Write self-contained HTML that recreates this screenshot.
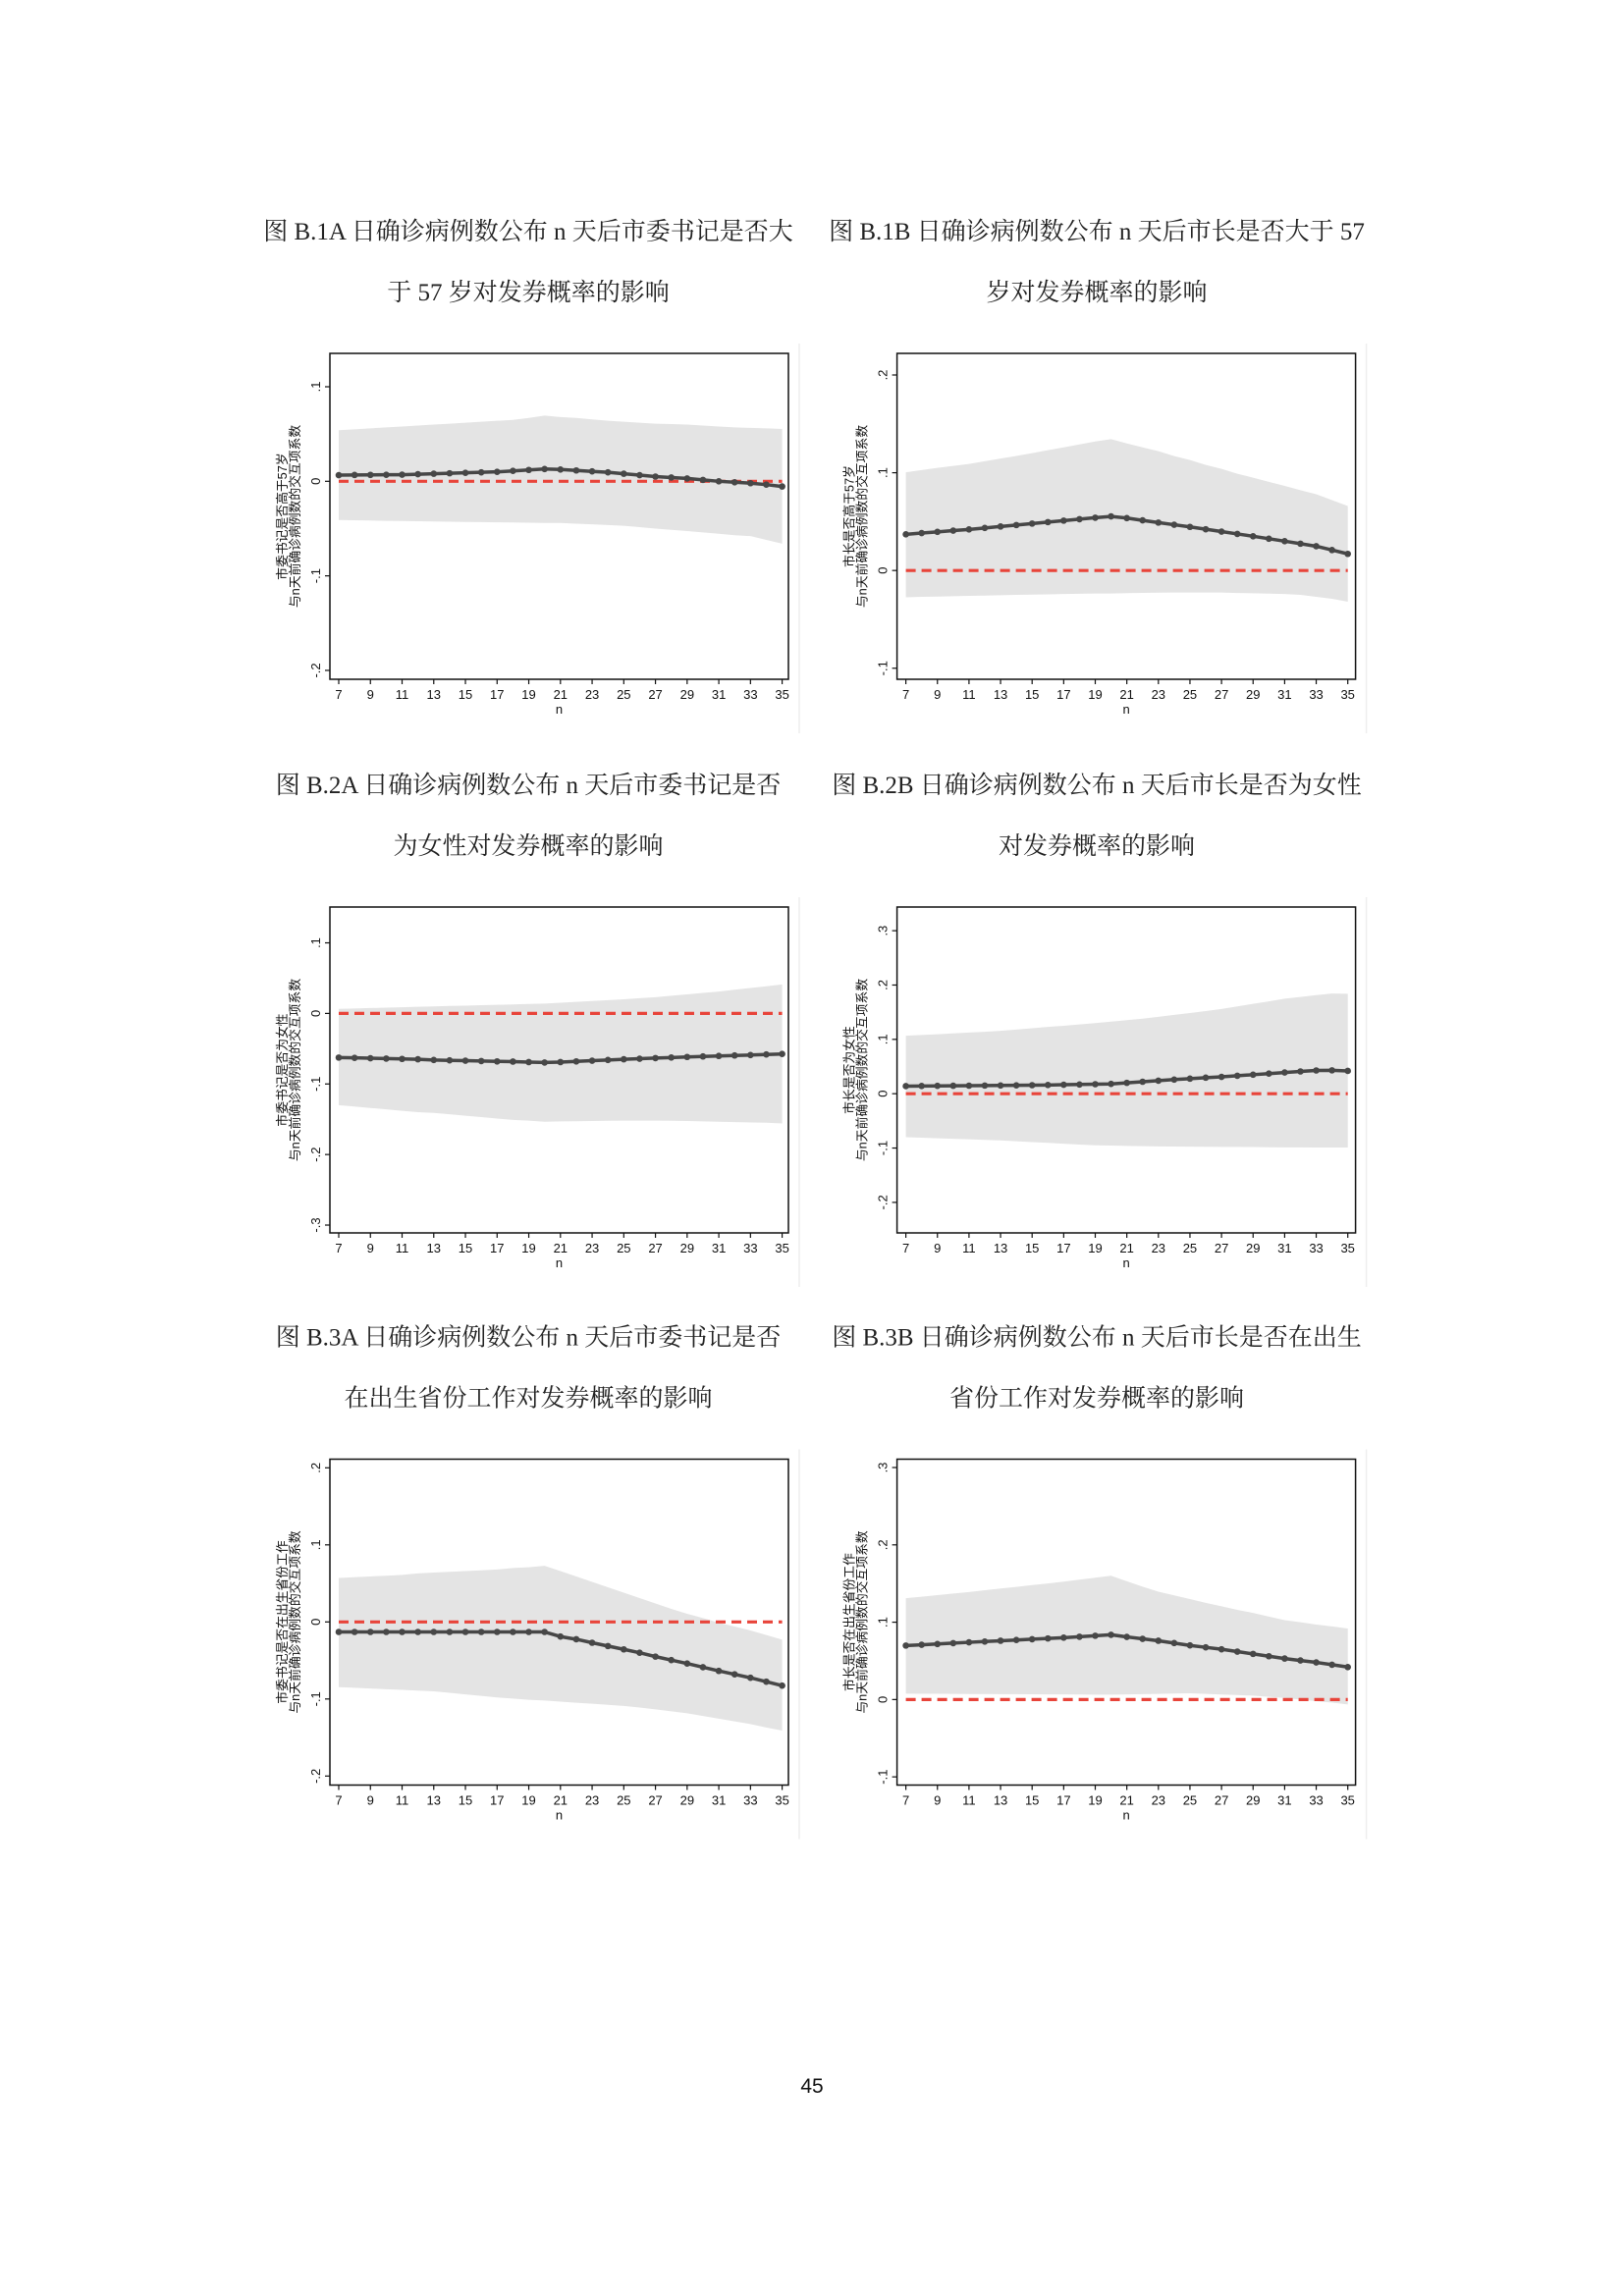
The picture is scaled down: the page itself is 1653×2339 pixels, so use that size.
<!DOCTYPE html>
<html><head><meta charset="utf-8"><style>
html,body{margin:0;padding:0;background:#fff;}
svg{display:block;}
.ttl{font-family:"Liberation Serif","Noto Serif CJK SC",serif;font-size:25px;fill:#222;}
.tk{font-family:"Liberation Sans","Noto Sans CJK SC",sans-serif;font-size:13px;fill:#111;}
.yt{font-family:"Liberation Sans","Noto Sans CJK SC",sans-serif;font-size:12.8px;fill:#111;}
</style></head><body>
<svg id="page" width="1653" height="2339" viewBox="0 0 1653 2339" xmlns="http://www.w3.org/2000/svg">
<text x="827" y="2132" text-anchor="middle" font-family="Liberation Sans,sans-serif" font-size="21" fill="#111">45</text>
</svg>
<script>
const nValues=[7,8,9,10,11,12,13,14,15,16,17,18,19,20,21,22,23,24,25,26,27,28,29,30,31,32,33,34,35];
const xTickLabels=["7","9","11","13","15","17","19","21","23","25","27","29","31","33","35"];

const coef1A=[.0065,.0067,.0068,.0069,.007,.0075,.008,.0085,.009,.0095,.010,.011,.012,.013,.0125,.0115,.0105,.0095,.008,.0065,.005,.004,.003,.0015,0,-.001,-.002,-.0035,-.0055];
const hi1A=[.054,.055,.056,.057,.058,.059,.060,.061,.062,.063,.064,.065,.067,.0695,.068,.067,.0655,.064,.063,.062,.061,.0605,.060,.059,.058,.057,.0565,.056,.0553];
const lo1A=[-.041,-.0412,-.0415,-.0418,-.042,-.0423,-.0425,-.0428,-.043,-.0432,-.0434,-.0436,-.0438,-.044,-.044,-.0448,-.0455,-.0463,-.047,-.0485,-.050,-.0513,-.0526,-.054,-.0555,-.057,-.058,-.062,-.066];

const coef1B=[.037,.0383,.0395,.0408,.042,.0435,.045,.0465,.048,.0495,.051,.0525,.054,.0553,.0536,.0513,.049,.0468,.0446,.0422,.0398,.0374,.035,.0325,.030,.0274,.0248,.0209,.017];
const hi1B=[.1005,.1027,.105,.107,.109,.1117,.1145,.1172,.120,.123,.126,.129,.132,.1343,.130,.126,.122,.117,.113,.108,.104,.099,.095,.0907,.0865,.0822,.078,.072,.066];
const lo1B=[-.0275,-.027,-.0267,-.0263,-.026,-.0257,-.0253,-.025,-.0247,-.0244,-.0241,-.0238,-.0236,-.0235,-.0232,-.0229,-.0227,-.0226,-.0225,-.0225,-.0225,-.023,-.0233,-.0237,-.024,-.025,-.027,-.029,-.032];

const coef2A=[-.0626,-.063,-.0635,-.064,-.0645,-.065,-.066,-.0665,-.067,-.0675,-.068,-.0683,-.069,-.0696,-.069,-.068,-.067,-.066,-.065,-.0642,-.0633,-.0625,-.0617,-.061,-.0603,-.0596,-.059,-.0582,-.0575];
const hi2A=[.0065,.007,.0076,.0082,.0088,.0094,.010,.0106,.011,.0116,.0122,.0128,.0134,.014,.0152,.0164,.0176,.0188,.020,.0215,.023,.025,.027,.029,.031,.0335,.036,.0385,.041];
const lo2A=[-.130,-.132,-.134,-.136,-.138,-.140,-.141,-.143,-.145,-.147,-.149,-.151,-.152,-.1535,-.153,-.1528,-.1525,-.1522,-.152,-.152,-.152,-.1522,-.1525,-.153,-.1535,-.154,-.1545,-.155,-.156];

const coef2B=[.014,.0142,.0144,.0146,.0148,.015,.0152,.0154,.0157,.016,.0165,.017,.0175,.018,.020,.022,.024,.026,.0277,.0295,.031,.033,.035,.037,.039,.041,.0428,.043,.042];
const hi2B=[.1066,.108,.1095,.111,.1125,.114,.1157,.118,.1205,.123,.125,.1275,.130,.1327,.1353,.138,.1415,.145,.1485,.152,.156,.1607,.1655,.170,.175,.178,.1815,.1845,.184];
const lo2B=[-.080,-.081,-.082,-.083,-.084,-.085,-.086,-.0875,-.089,-.0905,-.092,-.0935,-.095,-.0955,-.096,-.0965,-.097,-.0972,-.0975,-.0977,-.098,-.098,-.0982,-.0985,-.0987,-.0988,-.099,-.099,-.099];

const coef3A=[-.013,-.013,-.013,-.013,-.013,-.013,-.013,-.013,-.013,-.013,-.013,-.013,-.013,-.013,-.019,-.0225,-.027,-.0313,-.0356,-.040,-.045,-.0495,-.054,-.0588,-.0636,-.068,-.0725,-.0775,-.0826];
const hi3A=[.057,.058,.059,.060,.061,.063,.064,.065,.066,.067,.068,.070,.071,.0729,.066,.059,.052,.045,.038,.031,.024,.017,.0106,.005,-.001,-.006,-.011,-.017,-.023];
const lo3A=[-.0847,-.0855,-.0864,-.0873,-.0882,-.0891,-.090,-.092,-.094,-.096,-.098,-.0995,-.101,-.102,-.1034,-.1048,-.1062,-.1076,-.109,-.111,-.1134,-.116,-.1186,-.122,-.1255,-.129,-.1326,-.137,-.141];

const coef3B=[.0698,.0708,.0718,.0729,.074,.075,.076,.077,.078,.079,.080,.0812,.0825,.0837,.081,.0785,.076,.073,.070,.0675,.065,.062,.059,.056,.053,.0505,.048,.045,.042];
const hi3B=[.131,.133,.135,.137,.139,.1413,.1435,.1457,.148,.150,.1525,.155,.1575,.160,.153,.146,.1395,.1347,.13,.125,.1205,.116,.112,.1073,.1027,.100,.097,.0945,.0918];
const lo3B=[.0076,.0075,.0074,.0073,.0072,.0071,.007,.0069,.0068,.0067,.0066,.0065,.0064,.0063,.0066,.007,.0073,.0077,.008,.0073,.0065,.0058,.005,.0035,.002,0,-.002,-.004,-.0063];

const yTicks1A=[.1,0,-.1,-.2], yTicks1B=[.2,.1,0,-.1], yTicks2A=[.1,0,-.1,-.2,-.3];
const yTicks2B=[.3,.2,.1,0,-.1,-.2], yTicks3A=[.2,.1,0,-.1,-.2], yTicks3B=[.3,.2,.1,0,-.1];

const NS="http://www.w3.org/2000/svg";
const svg=document.getElementById('page');
function mk(tag,attrs,parent){const e=document.createElementNS(NS,tag);for(const k in attrs)e.setAttribute(k,attrs[k]);(parent||svg).appendChild(e);return e;}
function fmt(v){if(Math.abs(v)<1e-9)return "0";const s=Math.abs(v).toFixed(1).replace(/^0/,"");return (v<0?"-":"")+s;}

const charts=[
 {id:"b1a",col:0,row:0,coef:coef1A,hi:hi1A,lo:lo1A,ticks:yTicks1A,dom:[-.2094,.1353],yt:["市委书记是否高于57岁","与n天前确诊病例数的交互项系数"],title:["图 B.1A 日确诊病例数公布 n 天后市委书记是否大","于 57 岁对发券概率的影响"]},
 {id:"b1b",col:1,row:0,coef:coef1B,hi:hi1B,lo:lo1B,ticks:yTicks1B,dom:[-.1113,.2221],yt:["市长是否高于57岁","与n天前确诊病例数的交互项系数"],title:["图 B.1B 日确诊病例数公布 n 天后市长是否大于 57","岁对发券概率的影响"]},
 {id:"b2a",col:0,row:1,coef:coef2A,hi:hi2A,lo:lo2A,ticks:yTicks2A,dom:[-.3111,.1508],yt:["市委书记是否为女性","与n天前确诊病例数的交互项系数"],title:["图 B.2A  日确诊病例数公布 n 天后市委书记是否","为女性对发券概率的影响"]},
 {id:"b2b",col:1,row:1,coef:coef2B,hi:hi2B,lo:lo2B,ticks:yTicks2B,dom:[-.2562,.3436],yt:["市长是否为女性","与n天前确诊病例数的交互项系数"],title:["图 B.2B  日确诊病例数公布 n 天后市长是否为女性","对发券概率的影响"]},
 {id:"b3a",col:0,row:2,coef:coef3A,hi:hi3A,lo:lo3A,ticks:yTicks3A,dom:[-.2117,.2112],yt:["市委书记是否在出生省份工作","与n天前确诊病例数的交互项系数"],title:["图 B.3A  日确诊病例数公布 n 天后市委书记是否","在出生省份工作对发券概率的影响"]},
 {id:"b3b",col:1,row:2,coef:coef3B,hi:hi3B,lo:lo3B,ticks:yTicks3B,dom:[-.1106,.3108],yt:["市长是否在出生省份工作","与n天前确诊病例数的交互项系数"],title:["图 B.3B  日确诊病例数公布 n 天后市长是否在出生","省份工作对发券概率的影响"]}
];
const colBoxL=[336,913.6], colX7=[345,922.6], colX35=[796.6,1372.7], colTitleC=[538,1117];
const rowTop=[360,924,1486.5], boxW=467, boxH=332;

charts.forEach(c=>{
  const L=colBoxL[c.col], T=rowTop[c.row], R=L+boxW, B=T+boxH;
  const g=mk('g',{});
  
  
  const xs=v=>colX7[c.col]+(v-7)*(colX35[c.col]-colX7[c.col])/28;
  const ys=v=>B-(v-c.dom[0])*(boxH)/(c.dom[1]-c.dom[0]);
  c.title.forEach((t,i)=>{
    const tt=mk('text',{x:colTitleC[c.col],y:T-125+i*62+9,'text-anchor':'middle',class:'ttl'},g);
    tt.textContent=t;
    
    
  });
  const fr=mk('path',{d:`M${R+11},${T-10} V${B+55}`,stroke:'#eeeeee','stroke-width':1.5,fill:'none'},g);
  
  
  let d='M'+nValues.map((n,i)=>xs(n)+','+ys(c.hi[i])).join(' L');
  for(let i=nValues.length-1;i>=0;i--)d+=' L'+xs(nValues[i])+','+ys(c.lo[i]);
  const band=mk('path',{d:d+' Z',fill:'#e4e4e4',stroke:'none'},g);
  
  
  const zl=mk('line',{x1:xs(7),x2:xs(35),y1:ys(0),y2:ys(0),stroke:'#e8443a','stroke-width':3.2,'stroke-dasharray':'10 6'},g);
  
  
  const ln=mk('polyline',{points:nValues.map((n,i)=>xs(n)+','+ys(c.coef[i])).join(' '),fill:'none',stroke:'#474747','stroke-width':3.5,'stroke-linejoin':'round'},g);
  
  
  nValues.forEach((n,i)=>{
    const p=mk('circle',{cx:xs(n),cy:ys(c.coef[i]),r:3.3,fill:'#474747'},g);
    
    
  });
  const bx=mk('rect',{x:L,y:T,width:boxW,height:boxH,fill:'none',stroke:'#111','stroke-width':1.5},g);
  
  
  c.ticks.forEach(v=>{
    const y=ys(v);
    const tk=mk('line',{x1:L-5,x2:L,y1:y,y2:y,stroke:'#111','stroke-width':1.2},g);
    
    
    const tl=mk('text',{x:0,y:0,class:'tk','text-anchor':'middle',transform:`translate(${L-10},${y}) rotate(-90)`},g);
    tl.textContent=fmt(v);
    
    
  });
  xTickLabels.forEach(s=>{
    const x=xs(+s);
    const tk=mk('line',{x1:x,x2:x,y1:B,y2:B+5,stroke:'#111','stroke-width':1.2},g);
    
    
    const tl=mk('text',{x:x,y:B+20,class:'tk','text-anchor':'middle'},g);
    tl.textContent=s;
    
    
  });
  const xt=mk('text',{x:(L+R)/2,y:B+35,class:'tk','text-anchor':'middle'},g);
  xt.textContent='n';
  
  
  c.yt.forEach((t,i)=>{
    const e=mk('text',{x:0,y:0,class:'yt','text-anchor':'middle',transform:`translate(${L-44+i*13},${(T+B)/2}) rotate(-90)`},g);
    e.textContent=t;
    
    
  });
});
</script>
</body></html>
